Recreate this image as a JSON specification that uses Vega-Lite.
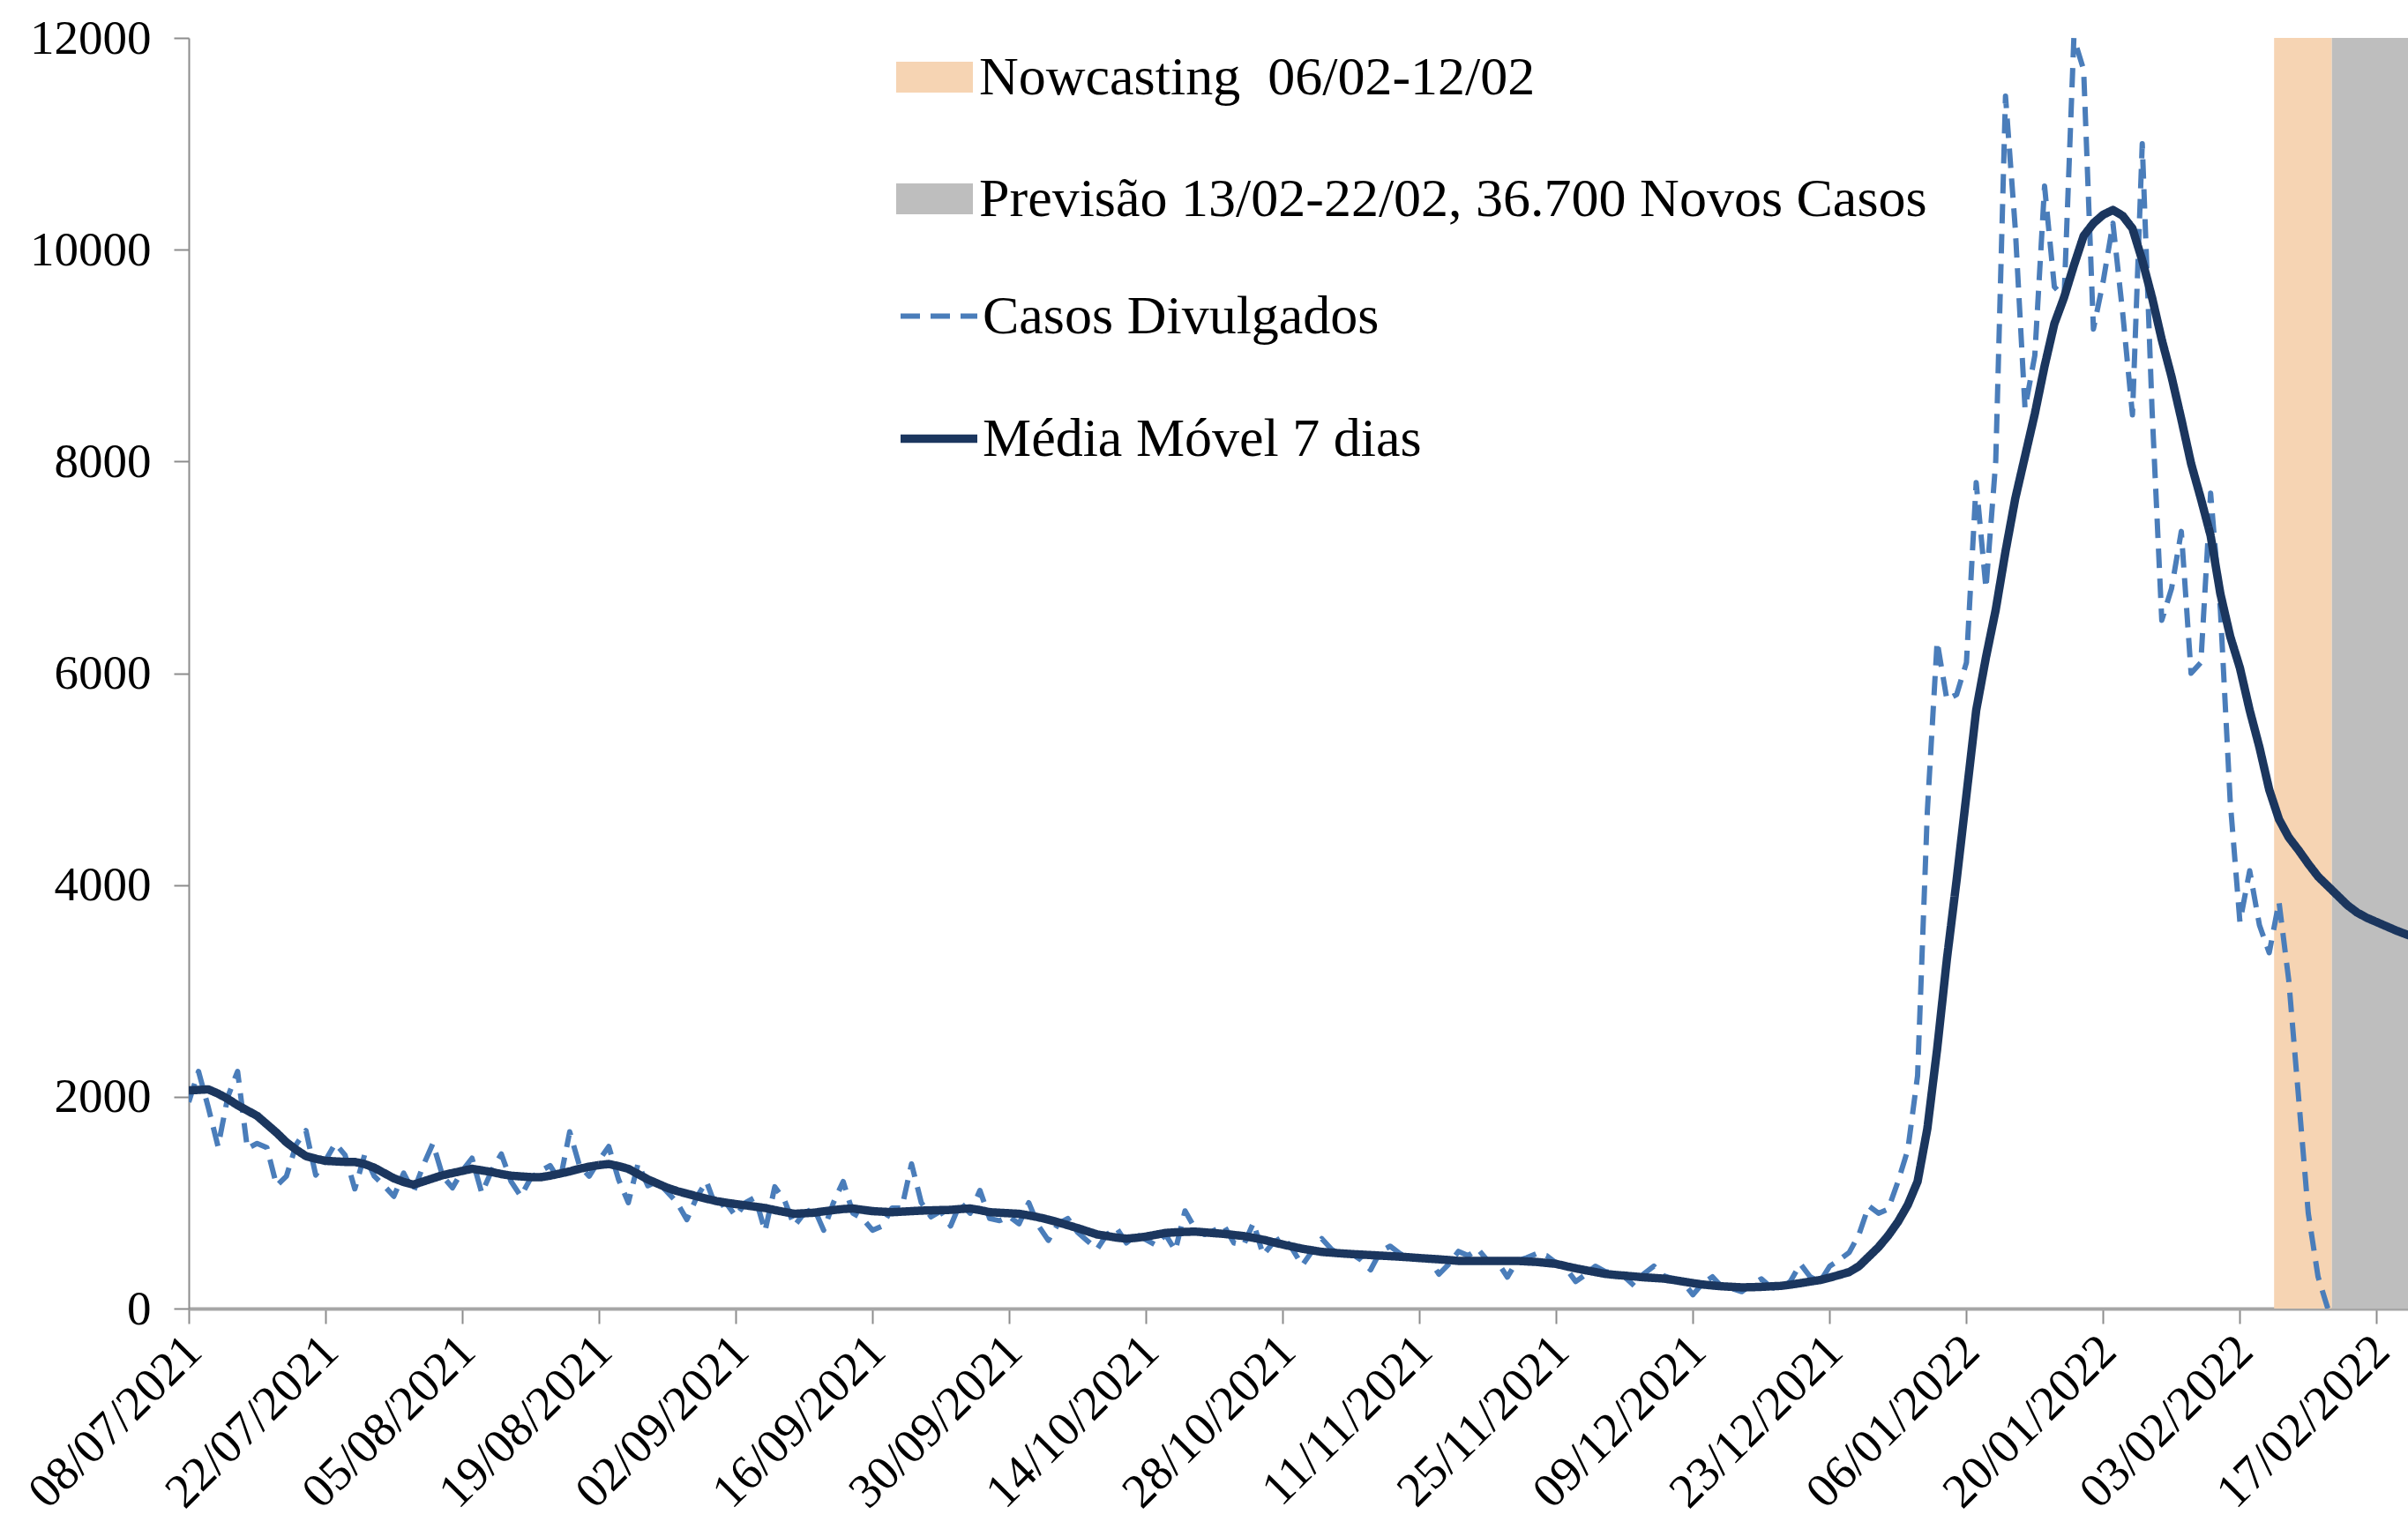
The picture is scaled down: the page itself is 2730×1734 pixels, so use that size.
{
  "$schema": "https://vega.github.io/schema/vega-lite/v6.json",
  "width": 2516,
  "height": 1441,
  "autosize": {"type": "none"},
  "padding": {"left": 214, "top": 43, "right": 0, "bottom": 250},
  "background": "white",
  "config": {"view": {"stroke": null}, "font": "Liberation Serif"},
  "datasets": {
    "faixas": [
      {"ini": "2022-02-06T12:00:00Z", "fim": "2022-02-12T10:00:00Z", "faixa": "Nowcasting \u00a006/02-12/02"},
      {"ini": "2022-02-12T10:00:00Z", "fim": "2022-02-23T00:00:00Z", "faixa": "Previsão 13/02-22/02, 36.700 Novos Casos"}
    ],
    "serie": [
      {"d":"2021-07-08","c":1950,"m":2060},{"d":"2021-07-09","c":2240,"m":2065},{"d":"2021-07-10","c":1900,"m":2070},{"d":"2021-07-11","c":1530,"m":2030},
      {"d":"2021-07-12","c":2000,"m":1980},{"d":"2021-07-13","c":2240,"m":1920},{"d":"2021-07-14","c":1510,"m":1870},{"d":"2021-07-15","c":1560,"m":1820},
      {"d":"2021-07-16","c":1520,"m":1740},{"d":"2021-07-17","c":1160,"m":1660},{"d":"2021-07-18","c":1250,"m":1570},{"d":"2021-07-19","c":1550,"m":1500},
      {"d":"2021-07-20","c":1680,"m":1440},{"d":"2021-07-21","c":1260,"m":1415},{"d":"2021-07-22","c":1400,"m":1395},{"d":"2021-07-23","c":1560,"m":1390},
      {"d":"2021-07-24","c":1450,"m":1385},{"d":"2021-07-25","c":1130,"m":1385},{"d":"2021-07-26","c":1450,"m":1365},{"d":"2021-07-27","c":1250,"m":1330},
      {"d":"2021-07-28","c":1160,"m":1280},{"d":"2021-07-29","c":1060,"m":1230},{"d":"2021-07-30","c":1280,"m":1195},{"d":"2021-07-31","c":1100,"m":1170},
      {"d":"2021-08-01","c":1350,"m":1200},{"d":"2021-08-02","c":1560,"m":1230},{"d":"2021-08-03","c":1250,"m":1260},{"d":"2021-08-04","c":1140,"m":1280},
      {"d":"2021-08-05","c":1300,"m":1300},{"d":"2021-08-06","c":1420,"m":1320},{"d":"2021-08-07","c":1090,"m":1305},{"d":"2021-08-08","c":1300,"m":1290},
      {"d":"2021-08-09","c":1460,"m":1270},{"d":"2021-08-10","c":1200,"m":1255},{"d":"2021-08-11","c":1060,"m":1248},{"d":"2021-08-12","c":1230,"m":1242},
      {"d":"2021-08-13","c":1300,"m":1240},{"d":"2021-08-14","c":1350,"m":1255},{"d":"2021-08-15","c":1200,"m":1275},{"d":"2021-08-16","c":1670,"m":1295},
      {"d":"2021-08-17","c":1350,"m":1320},{"d":"2021-08-18","c":1250,"m":1340},{"d":"2021-08-19","c":1400,"m":1355},{"d":"2021-08-20","c":1530,"m":1365},
      {"d":"2021-08-21","c":1220,"m":1345},{"d":"2021-08-22","c":1000,"m":1320},{"d":"2021-08-23","c":1370,"m":1270},{"d":"2021-08-24","c":1160,"m":1220},
      {"d":"2021-08-25","c":1200,"m":1180},{"d":"2021-08-26","c":1100,"m":1140},{"d":"2021-08-27","c":1000,"m":1110},{"d":"2021-08-28","c":840,"m":1085},
      {"d":"2021-08-29","c":1050,"m":1060},{"d":"2021-08-30","c":1200,"m":1038},{"d":"2021-08-31","c":950,"m":1015},{"d":"2021-09-01","c":1000,"m":1000},
      {"d":"2021-09-02","c":870,"m":987},{"d":"2021-09-03","c":1000,"m":975},{"d":"2021-09-04","c":1050,"m":962},{"d":"2021-09-05","c":730,"m":950},
      {"d":"2021-09-06","c":1150,"m":930},{"d":"2021-09-07","c":1020,"m":912},{"d":"2021-09-08","c":780,"m":895},{"d":"2021-09-09","c":900,"m":900},
      {"d":"2021-09-10","c":950,"m":905},{"d":"2021-09-11","c":740,"m":918},{"d":"2021-09-12","c":1000,"m":930},{"d":"2021-09-13","c":1200,"m":940},
      {"d":"2021-09-14","c":900,"m":945},{"d":"2021-09-15","c":850,"m":932},{"d":"2021-09-16","c":740,"m":920},{"d":"2021-09-17","c":780,"m":915},
      {"d":"2021-09-18","c":950,"m":910},{"d":"2021-09-19","c":950,"m":915},{"d":"2021-09-20","c":1366,"m":920},{"d":"2021-09-21","c":1000,"m":925},
      {"d":"2021-09-22","c":866,"m":927},{"d":"2021-09-23","c":920,"m":930},{"d":"2021-09-24","c":780,"m":932},{"d":"2021-09-25","c":1000,"m":940},
      {"d":"2021-09-26","c":900,"m":945},{"d":"2021-09-27","c":1116,"m":930},{"d":"2021-09-28","c":850,"m":910},{"d":"2021-09-29","c":830,"m":905},
      {"d":"2021-09-30","c":870,"m":900},{"d":"2021-10-01","c":800,"m":895},{"d":"2021-10-02","c":1000,"m":880},{"d":"2021-10-03","c":780,"m":862},
      {"d":"2021-10-04","c":644,"m":840},{"d":"2021-10-05","c":800,"m":815},{"d":"2021-10-06","c":850,"m":787},{"d":"2021-10-07","c":720,"m":760},
      {"d":"2021-10-08","c":640,"m":730},{"d":"2021-10-09","c":561,"m":700},{"d":"2021-10-10","c":700,"m":685},{"d":"2021-10-11","c":760,"m":670},
      {"d":"2021-10-12","c":620,"m":660},{"d":"2021-10-13","c":700,"m":668},{"d":"2021-10-14","c":650,"m":680},{"d":"2021-10-15","c":600,"m":697},
      {"d":"2021-10-16","c":700,"m":714},{"d":"2021-10-17","c":547,"m":720},{"d":"2021-10-18","c":922,"m":724},{"d":"2021-10-19","c":760,"m":727},
      {"d":"2021-10-20","c":700,"m":720},{"d":"2021-10-21","c":740,"m":712},{"d":"2021-10-22","c":780,"m":705},{"d":"2021-10-23","c":620,"m":695},
      {"d":"2021-10-24","c":600,"m":685},{"d":"2021-10-25","c":810,"m":668},{"d":"2021-10-26","c":505,"m":650},{"d":"2021-10-27","c":620,"m":627},
      {"d":"2021-10-28","c":680,"m":605},{"d":"2021-10-29","c":560,"m":585},{"d":"2021-10-30","c":408,"m":565},{"d":"2021-10-31","c":540,"m":550},
      {"d":"2021-11-01","c":660,"m":535},{"d":"2021-11-02","c":560,"m":528},{"d":"2021-11-03","c":500,"m":521},{"d":"2021-11-04","c":520,"m":515},
      {"d":"2021-11-05","c":460,"m":510},{"d":"2021-11-06","c":366,"m":505},{"d":"2021-11-07","c":540,"m":500},{"d":"2021-11-08","c":589,"m":495},
      {"d":"2021-11-09","c":520,"m":490},{"d":"2021-11-10","c":470,"m":484},{"d":"2021-11-11","c":480,"m":477},{"d":"2021-11-12","c":460,"m":471},
      {"d":"2021-11-13","c":325,"m":465},{"d":"2021-11-14","c":420,"m":458},{"d":"2021-11-15","c":540,"m":450},{"d":"2021-11-16","c":500,"m":450},
      {"d":"2021-11-17","c":560,"m":450},{"d":"2021-11-18","c":450,"m":450},{"d":"2021-11-19","c":440,"m":450},{"d":"2021-11-20","c":297,"m":450},
      {"d":"2021-11-21","c":450,"m":450},{"d":"2021-11-22","c":480,"m":445},{"d":"2021-11-23","c":520,"m":440},{"d":"2021-11-24","c":500,"m":431},
      {"d":"2021-11-25","c":430,"m":422},{"d":"2021-11-26","c":380,"m":400},{"d":"2021-11-27","c":255,"m":380},{"d":"2021-11-28","c":320,"m":362},
      {"d":"2021-11-29","c":400,"m":345},{"d":"2021-11-30","c":350,"m":328},{"d":"2021-12-01","c":330,"m":318},{"d":"2021-12-02","c":300,"m":311},
      {"d":"2021-12-03","c":214,"m":303},{"d":"2021-12-04","c":330,"m":295},{"d":"2021-12-05","c":400,"m":289},{"d":"2021-12-06","c":310,"m":283},
      {"d":"2021-12-07","c":280,"m":270},{"d":"2021-12-08","c":250,"m":255},{"d":"2021-12-09","c":130,"m":240},{"d":"2021-12-10","c":240,"m":227},
      {"d":"2021-12-11","c":300,"m":218},{"d":"2021-12-12","c":200,"m":210},{"d":"2021-12-13","c":190,"m":205},{"d":"2021-12-14","c":160,"m":200},
      {"d":"2021-12-15","c":230,"m":202},{"d":"2021-12-16","c":280,"m":205},{"d":"2021-12-17","c":200,"m":210},{"d":"2021-12-18","c":180,"m":214},
      {"d":"2021-12-19","c":260,"m":226},{"d":"2021-12-20","c":422,"m":240},{"d":"2021-12-21","c":300,"m":255},{"d":"2021-12-22","c":250,"m":269},
      {"d":"2021-12-23","c":400,"m":292},{"d":"2021-12-24","c":460,"m":318},{"d":"2021-12-25","c":530,"m":345},{"d":"2021-12-26","c":700,"m":400},
      {"d":"2021-12-27","c":970,"m":490},{"d":"2021-12-28","c":900,"m":580},{"d":"2021-12-29","c":940,"m":690},{"d":"2021-12-30","c":1200,"m":820},
      {"d":"2021-12-31","c":1500,"m":980},{"d":"2022-01-01","c":2200,"m":1200},{"d":"2022-01-02","c":4700,"m":1700},{"d":"2022-01-03","c":6300,"m":2450},
      {"d":"2022-01-04","c":5750,"m":3300},{"d":"2022-01-05","c":5800,"m":4050},{"d":"2022-01-06","c":6100,"m":4850},{"d":"2022-01-07","c":7800,"m":5650},
      {"d":"2022-01-08","c":6800,"m":6150},{"d":"2022-01-09","c":8000,"m":6600},{"d":"2022-01-10","c":11450,"m":7150},{"d":"2022-01-11","c":10200,"m":7650},
      {"d":"2022-01-12","c":8500,"m":8050},{"d":"2022-01-13","c":9000,"m":8450},{"d":"2022-01-14","c":10600,"m":8900},{"d":"2022-01-15","c":9650,"m":9300},
      {"d":"2022-01-16","c":9550,"m":9550},{"d":"2022-01-17","c":12000,"m":9850},{"d":"2022-01-18","c":11700,"m":10130},{"d":"2022-01-19","c":9250,"m":10250},
      {"d":"2022-01-20","c":9700,"m":10330},{"d":"2022-01-21","c":10250,"m":10375},{"d":"2022-01-22","c":9400,"m":10320},{"d":"2022-01-23","c":8440,"m":10200},
      {"d":"2022-01-24","c":11000,"m":9900},{"d":"2022-01-25","c":8500,"m":9550},{"d":"2022-01-26","c":6500,"m":9150},{"d":"2022-01-27","c":6800,"m":8800},
      {"d":"2022-01-28","c":7340,"m":8400},{"d":"2022-01-29","c":6000,"m":7980},{"d":"2022-01-30","c":6100,"m":7650},{"d":"2022-01-31","c":7700,"m":7300},
      {"d":"2022-02-01","c":6600,"m":6750},{"d":"2022-02-02","c":4800,"m":6350},{"d":"2022-02-03","c":3650,"m":6050},{"d":"2022-02-04","c":4135,"m":5650},
      {"d":"2022-02-05","c":3620,"m":5300},{"d":"2022-02-06","c":3360,"m":4900},{"d":"2022-02-07","c":3840,"m":4620},{"d":"2022-02-08","c":3100,"m":4450},
      {"d":"2022-02-09","c":2000,"m":4330},{"d":"2022-02-10","c":900,"m":4200},{"d":"2022-02-11","c":300,"m":4080},{"d":"2022-02-12","c":0,"m":3990},
      {"d":"2022-02-13","m":3900},{"d":"2022-02-14","m":3810},{"d":"2022-02-15","m":3740},{"d":"2022-02-16","m":3690},
      {"d":"2022-02-17","m":3650},{"d":"2022-02-18","m":3610},{"d":"2022-02-19","m":3570},{"d":"2022-02-20","m":3535},{"d":"2022-02-21","m":3500}
    ]
  },
  "layer": [
    {
      "data": {"name": "faixas"},
      "mark": {"type": "rect", "clip": true},
      "encoding": {
        "x": {
          "field": "ini", "type": "temporal",
          "scale": {"type": "utc", "nice": false, "domain": [{"year": 2021, "month": 7, "date": 8, "utc": true}, {"year": 2022, "month": 2, "date": 20, "hours": 5, "utc": true}]},
          "axis": {
            "title": null, "grid": false, "format": "%d/%m/%Y",
            "values": [
              {"year": 2021, "month": 7, "date": 8, "utc": true}, {"year": 2021, "month": 7, "date": 22, "utc": true},
              {"year": 2021, "month": 8, "date": 5, "utc": true}, {"year": 2021, "month": 8, "date": 19, "utc": true},
              {"year": 2021, "month": 9, "date": 2, "utc": true}, {"year": 2021, "month": 9, "date": 16, "utc": true},
              {"year": 2021, "month": 9, "date": 30, "utc": true}, {"year": 2021, "month": 10, "date": 14, "utc": true},
              {"year": 2021, "month": 10, "date": 28, "utc": true}, {"year": 2021, "month": 11, "date": 11, "utc": true},
              {"year": 2021, "month": 11, "date": 25, "utc": true}, {"year": 2021, "month": 12, "date": 9, "utc": true},
              {"year": 2021, "month": 12, "date": 23, "utc": true}, {"year": 2022, "month": 1, "date": 6, "utc": true},
              {"year": 2022, "month": 1, "date": 20, "utc": true}, {"year": 2022, "month": 2, "date": 3, "utc": true},
              {"year": 2022, "month": 2, "date": 17, "utc": true}
            ],
            "labelAngle": -45, "labelAlign": "right", "labelBaseline": "middle",
            "labelFont": "Liberation Serif", "labelFontSize": 55, "labelColor": "#000000", "labelLimit": 0,
            "labelPadding": 22, "labelOffset": 5, "labelOverlap": false, "labelFlush": false, "labelBound": false,
            "tickSize": 17, "tickWidth": 2, "tickColor": "#8C8C8C",
            "domainColor": "#A6A6A6", "domainWidth": 4
          }
        },
        "x2": {"field": "fim"},
        "y": {
          "datum": 12000, "type": "quantitative",
          "scale": {"domain": [0, 12000], "nice": false},
          "axis": {
            "title": null, "grid": false, "format": "d",
            "values": [0, 2000, 4000, 6000, 8000, 10000, 12000],
            "labelFont": "Liberation Serif", "labelFontSize": 55, "labelColor": "#000000",
            "labelPadding": 26, "labelFlush": false, "labelBound": false,
            "tickSize": 17, "tickWidth": 2, "tickColor": "#8C8C8C",
            "domainColor": "#8C8C8C", "domainWidth": 2
          }
        },
        "y2": {"datum": 0},
        "fill": {
          "field": "faixa", "type": "nominal",
          "scale": {"domain": ["Nowcasting \u00a006/02-12/02", "Previsão 13/02-22/02, 36.700 Novos Casos"], "range": ["#F6D4B3", "#BEBEBE"]},
          "legend": {
            "orient": "none", "legendX": 802, "legendY": 1, "title": null, "direction": "vertical",
            "symbolType": "M-1,-0.4H1V0.4H-1Z", "symbolSize": 7569, "symbolStrokeWidth": 0,
            "labelFont": "Liberation Serif", "labelFontSize": 62, "labelColor": "#000000", "labelLimit": 0,
            "labelOffset": 7, "rowPadding": 63, "padding": 0
          }
        }
      }
    },
    {
      "data": {"name": "serie"},
      "transform": [
        {"fold": ["c", "m"], "as": ["serie", "valor"]},
        {"filter": "isValid(datum.valor)"}
      ],
      "mark": {"type": "line", "clip": true, "strokeJoin": "round"},
      "encoding": {
        "x": {"field": "d", "type": "temporal", "scale": {"type": "utc", "nice": false, "domain": [{"year": 2021, "month": 7, "date": 8, "utc": true}, {"year": 2022, "month": 2, "date": 20, "hours": 5, "utc": true}]}},
        "y": {"field": "valor", "type": "quantitative", "scale": {"domain": [0, 12000], "nice": false}},
        "stroke": {
          "field": "serie", "type": "nominal",
          "scale": {"domain": ["c", "m"], "range": ["#4A7DBA", "#1B365E"]},
          "legend": {
            "orient": "none", "legendX": 802, "legendY": 269, "title": null, "direction": "vertical",
            "symbolType": "stroke", "symbolSize": 7569,
            "labelExpr": "datum.label == 'c' ? 'Casos Divulgados' : 'Média Móvel 7 dias'",
            "labelFont": "Liberation Serif", "labelFontSize": 62, "labelColor": "#000000", "labelLimit": 0,
            "labelOffset": 1, "rowPadding": 59, "padding": 0
          }
        },
        "strokeDash": {
          "field": "serie", "type": "nominal",
          "scale": {"domain": ["c", "m"], "range": [[22, 12], [1, 0]]},
          "legend": {
            "orient": "none", "legendX": 802, "legendY": 269, "title": null, "direction": "vertical",
            "symbolType": "stroke", "symbolSize": 7569,
            "labelExpr": "datum.label == 'c' ? 'Casos Divulgados' : 'Média Móvel 7 dias'",
            "labelFont": "Liberation Serif", "labelFontSize": 62, "labelColor": "#000000", "labelLimit": 0,
            "labelOffset": 1, "rowPadding": 59, "padding": 0
          }
        },
        "strokeWidth": {
          "field": "serie", "type": "nominal",
          "scale": {"domain": ["c", "m"], "range": [6, 9.5]},
          "legend": {
            "orient": "none", "legendX": 802, "legendY": 269, "title": null, "direction": "vertical",
            "symbolType": "stroke", "symbolSize": 7569,
            "labelExpr": "datum.label == 'c' ? 'Casos Divulgados' : 'Média Móvel 7 dias'",
            "labelFont": "Liberation Serif", "labelFontSize": 62, "labelColor": "#000000", "labelLimit": 0,
            "labelOffset": 1, "rowPadding": 59, "padding": 0
          }
        }
      }
    }
  ]
}
